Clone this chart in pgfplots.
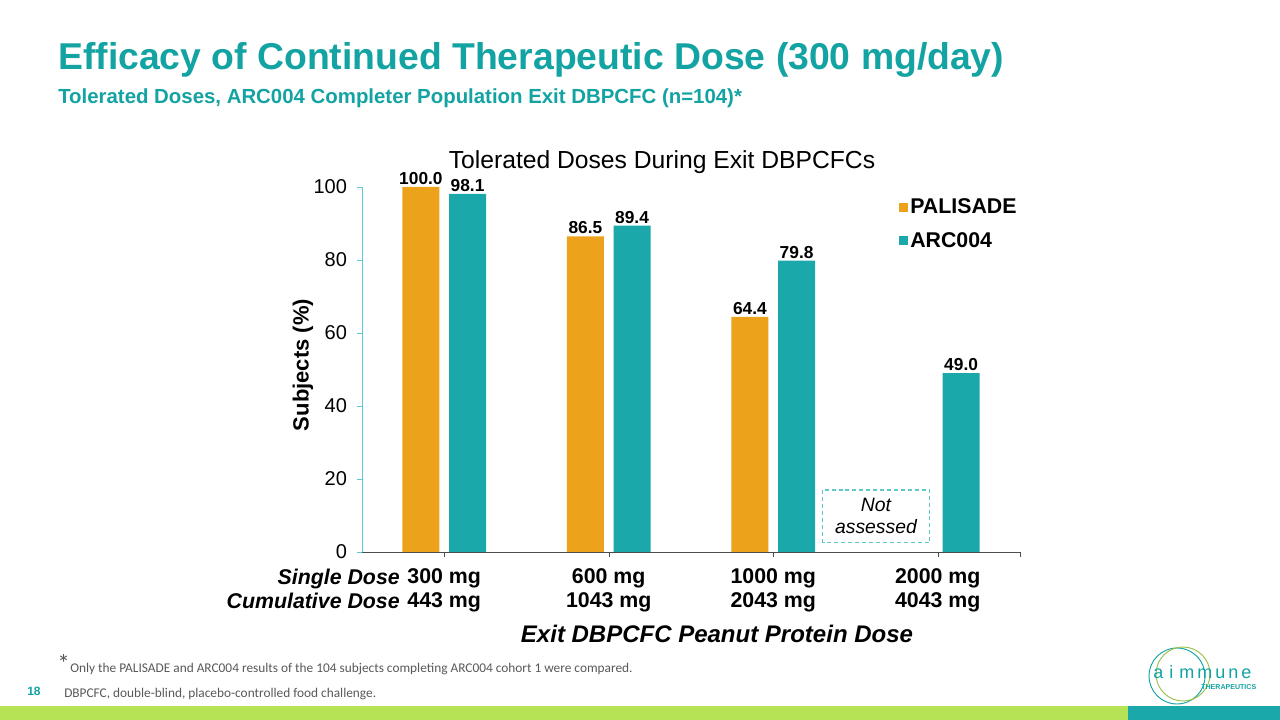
\documentclass[border=0pt]{standalone}
\usepackage{fontspec}
\setmainfont{Liberation Sans}
\newfontfamily\calibri{Carlito}
\usepackage{pgfplots}
\pgfplotsset{compat=1.18}
\definecolor{palisade}{HTML}{EDA21C}
\definecolor{arc}{HTML}{1BA8AB}
\definecolor{titleteal}{HTML}{13A3A3}
\definecolor{bargreen}{HTML}{B6E356}
\definecolor{axisteal}{HTML}{5FC9C9}
\definecolor{footgray}{HTML}{595959}
\begin{document}
\begin{tikzpicture}[x=0.75pt,y=0.75pt]
\fill[white] (0,0) rectangle (1280,720);
\path[use as bounding box] (0,0) rectangle (1280,720);
% titles
\node[anchor=base west, inner sep=0, text=titleteal, font=\bfseries\fontsize{28}{32}\selectfont] at (58,650) {Efficacy of Continued Therapeutic Dose (300 mg/day)};
\node[anchor=base west, inner sep=0, text=titleteal, font=\bfseries\fontsize{15.3}{18}\selectfont] at (58,616) {Tolerated Doses, ARC004 Completer Population Exit DBPCFC (n=104)*};
% chart title
\node[anchor=center, font=\fontsize{18.5}{22}\selectfont] at (662,558) {Tolerated Doses During Exit DBPCFCs};
\begin{axis}[
  at={(271.5pt,126pt)}, anchor=south west, scale only axis,
  width=493.5pt, height=273.75pt,
  xmin=-0.5, xmax=3.5, ymin=0, ymax=100,
  axis x line*=bottom, axis y line*=left,
  x axis line style={draw=black!70, -}, y axis line style={draw=axisteal, -},
  ytick={0,20,40,60,80,100},
  xtick={0,1,2,3}, extra x ticks={3.5}, extra x tick labels={},
  tick align=outside, major tick length=3.75pt,
  ytick style={draw=axisteal}, xtick style={draw=black!70},
  extra x tick style={tick style={draw=black!70}},
  /pgf/number format/assume math mode=true,
  yticklabel style={font=\fontsize{15}{18}\selectfont, text=black, xshift=-4pt},
  xticklabels={{300 mg\\443 mg},{600 mg\\1043 mg},{1000 mg\\2043 mg},{2000 mg\\4043 mg}},
  xticklabel style={align=center, font=\bfseries\fontsize{16}{18}\selectfont, text=black, yshift=-5.5pt},
  nodes near coords={\pgfmathprintnumber[fixed,fixed zerofill,precision=1,assume math mode=true]{\pgfplotspointmeta}},
  nodes near coords style={font=\bfseries\fontsize{13}{15}\selectfont, inner sep=1.5pt},
  legend style={at={(0.815,0.976)}, anchor=north west, draw=none, fill=none,
     font=\bfseries\fontsize{16}{19}\selectfont, row sep=8.5pt, inner sep=0pt},
  legend cell align=left,
  legend image code/.code={\fill[#1] (-3.5pt,-3.4pt) rectangle (3.3pt,3.4pt);},
]
\addplot[ybar, fill=palisade, draw=none, bar width=0.224, bar shift=-0.142,
  every node near coord/.append style={xshift=-17.5pt}]
  coordinates {(0,100.0) (1,86.5) (2,64.4)};
\addplot[ybar, fill=arc, draw=none, bar width=0.224, bar shift=0.142,
  every node near coord/.append style={xshift=17.5pt}]
  coordinates {(0,98.1) (1,89.4) (2,79.8) (3,49.0)};
\legend{PALISADE, ARC004}
\draw[draw=axisteal, dash pattern=on 3pt off 2.2pt, line width=0.9pt] (axis cs:2.297,2.5) rectangle (axis cs:2.952,17);
\node[align=center, font=\itshape\fontsize{14.5}{16.5}\selectfont] at (axis cs:2.6245,9.9) {Not\\assessed};
\end{axis}
% y label
\node[rotate=90, font=\bfseries\fontsize{16.5}{19}\selectfont] at (303,355) {Subjects (\%)};
% dose row labels
\node[anchor=base east, inner sep=0, font=\bfseries\itshape\fontsize{16}{18}\selectfont] at (400,135) {Single Dose};
\node[anchor=base east, inner sep=0, font=\bfseries\itshape\fontsize{16}{18}\selectfont] at (400,111) {Cumulative Dose};
% x label
\node[anchor=base, inner sep=0, font=\bfseries\itshape\fontsize{18}{21}\selectfont] at (717,77) {Exit DBPCFC Peanut Protein Dose};
% footnotes
\node[anchor=base west, inner sep=0, text=footgray, font=\calibri\fontsize{19}{20}\selectfont] at (57,47) {*};
\node[anchor=base west, inner sep=0, text=footgray, font=\calibri\fontsize{10}{12}\selectfont] at (70,47) {Only the PALISADE and ARC004 results of the 104 subjects completing ARC004 cohort 1 were compared.};
\node[anchor=base west, inner sep=0, text=footgray, font=\calibri\fontsize{10}{12}\selectfont] at (64,22) {DBPCFC, double-blind, placebo-controlled food challenge.};
\node[anchor=base west, inner sep=0, text=titleteal, font=\bfseries\fontsize{9}{11}\selectfont] at (27,24) {18};
% logo
\draw[titleteal, line width=0.7pt] (1177,44) circle (28);
\draw[bargreen!85!black, line width=0.7pt] (1183,46) circle (27);
\node[anchor=base west, inner sep=0, text=titleteal, font=\fontsize{13.5}{16}\selectfont] at (1153,41) {a\,\,i\,\,m\,m\,u\,n\,e};
\node[anchor=base west, inner sep=0, text=titleteal, font=\bfseries\fontsize{5.3}{7}\selectfont] at (1201,30) {THERAPEUTICS};
% bottom bar
\fill[bargreen] (0,0) rectangle (1128,14);
\fill[arc] (1128,0) rectangle (1280,14);
\end{tikzpicture}
\end{document}
